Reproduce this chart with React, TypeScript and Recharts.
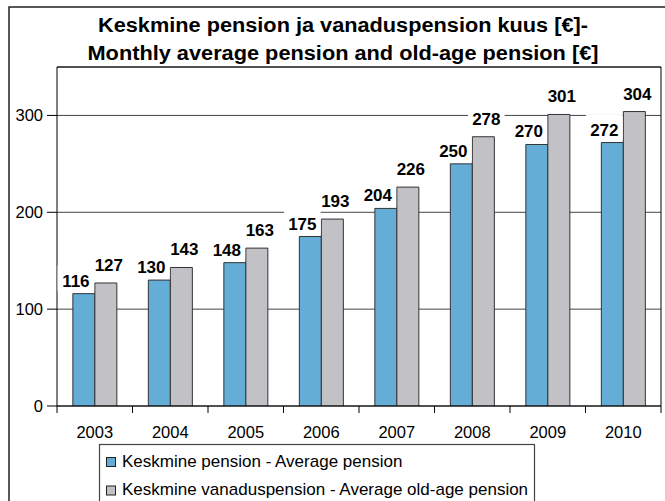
import React from 'react';
import { BarChart, Bar, XAxis, YAxis, CartesianGrid, LabelList, ReferenceLine } from 'recharts';

const years = ['2003', '2004', '2005', '2006', '2007', '2008', '2009', '2010'];
const averagePension = [116, 130, 148, 175, 204, 250, 270, 272];
const oldAgePension = [127, 143, 163, 193, 226, 278, 301, 304];
const yTicks = [0, 100, 200, 300];
const seriesNames = ['Keskmine pension - Average pension', 'Keskmine vanaduspension - Average old-age pension'];
const seriesColors = ['#63ADD7', '#C2C2C6'];
const titleLines = ['Keskmine pension ja vanaduspension kuus [€]-', 'Monthly average pension and old-age pension [€]'];

const data = years.map((y, i) => ({ year: y, avg: averagePension[i], old: oldAgePension[i] }));

const W = 665;
const H = 501;
const PLOT_LEFT = 57;
const PLOT_RIGHT = 661;
const PLOT_TOP = 67;
const PLOT_BOTTOM = 406;
const FONT = '"Liberation Sans", Arial, Helvetica, sans-serif';
const BAND = (PLOT_RIGHT - PLOT_LEFT) / years.length;
const TITLE_WIDTHS = [490, 511];

const XTick = (props: any) => {
  const { x, y, payload, index } = props;
  return (
    <g>
      <line x1={x - BAND / 2} x2={x - BAND / 2} y1={y} y2={y + 7} stroke="#000" strokeWidth={1} />
      {index === years.length - 1 && (
        <line x1={x + BAND / 2} x2={x + BAND / 2} y1={y} y2={y + 7} stroke="#000" strokeWidth={1} />
      )}
      <text x={x} y={y + 32} textAnchor="middle" fontSize={16.5} fontFamily={FONT} fill="#000">
        {payload.value}
      </text>
    </g>
  );
};

const makeLabel = (dx: number, gap: number) => (props: any) => {
  const { x, y, width, value } = props;
  const cx = Number(x) + Number(width) / 2 + dx;
  const baseline = Number(y) - gap;
  const w = String(value).length * 9.5 + 8;
  return (
    <g>
      <rect x={cx - w / 2} y={baseline - 21} width={w} height={25} fill="#fff" />
      <text x={cx} y={baseline} textAnchor="middle" fontSize={17} fontWeight="bold" fontFamily={FONT} fill="#000">
        {value}
      </text>
    </g>
  );
};

export default function App() {
  return (
    <div style={{ position: 'fixed', left: 0, top: 0, width: W, height: H, overflow: 'hidden', background: '#fff' }}>
      <div style={{ position: 'absolute', left: 0, top: 0 }}>
        <BarChart
          width={W}
          height={H}
          data={data}
          margin={{ top: PLOT_TOP, right: W - PLOT_RIGHT - 4, left: 0, bottom: 0 }}
          barCategoryGap="21%"
          barGap={0}
        >
          <CartesianGrid horizontal vertical={false} stroke="#444" strokeWidth={1} />
          <XAxis
            dataKey="year"
            height={H - PLOT_BOTTOM}
            tickSize={0}
            tickMargin={0}
            tickLine={false}
            axisLine={{ stroke: '#000', strokeWidth: 1 }}
            tick={<XTick />}
            interval={0}
          />
          <YAxis
            domain={[0, 350]}
            ticks={yTicks}
            width={PLOT_LEFT}
            tickSize={10}
            tickMargin={4}
            axisLine={{ stroke: '#000', strokeWidth: 1 }}
            tickLine={{ stroke: '#000', strokeWidth: 1 }}
            tick={{ fontSize: 16.5, fill: '#000', fontFamily: FONT }}
            allowDataOverflow
          />
          <YAxis
            yAxisId="right"
            orientation="right"
            domain={[0, 350]}
            width={4}
            tick={false}
            tickLine={false}
            axisLine={{ stroke: '#000', strokeWidth: 1 }}
          />
          <ReferenceLine y={350} stroke="#000" strokeWidth={1} />
          <Bar dataKey="avg" name={seriesNames[0]} fill={seriesColors[0]} stroke="#333" strokeWidth={1} isAnimationActive={false}>
            <LabelList dataKey="avg" content={makeLabel(-8, 7)} />
          </Bar>
          <Bar dataKey="old" name={seriesNames[1]} fill={seriesColors[1]} stroke="#333" strokeWidth={1} isAnimationActive={false}>
            <LabelList dataKey="old" content={makeLabel(3, 12)} />
          </Bar>
        </BarChart>
      </div>
      <svg width={W} height={H} style={{ position: 'absolute', left: 0, top: 0, pointerEvents: 'none' }}>
        <rect x={9} y={7} width={W} height={H} fill="none" stroke="#222" strokeWidth={1.5} />
        {titleLines.map((t, i) => (
          <text
            key={i}
            x={343}
            y={32 + i * 28}
            textAnchor="middle"
            fontSize={20}
            fontWeight="bold"
            fontFamily={FONT}
            fill="#000"
            textLength={TITLE_WIDTHS[i]}
            lengthAdjust="spacingAndGlyphs"
          >
            {t}
          </text>
        ))}
        <rect x={99.5} y={444.5} width={435} height={70} fill="#fff" stroke="#444" strokeWidth={1.2} />
        {seriesNames.map((n, i) => (
          <g key={n}>
            <rect x={106.5} y={457.5 + i * 28.5} width={9} height={9} fill={seriesColors[i]} stroke="#222" strokeWidth={1} />
            <text x={122} y={466.5 + i * 28.5} fontSize={17} fontFamily={FONT} fill="#000">
              {n}
            </text>
          </g>
        ))}
      </svg>
    </div>
  );
}
